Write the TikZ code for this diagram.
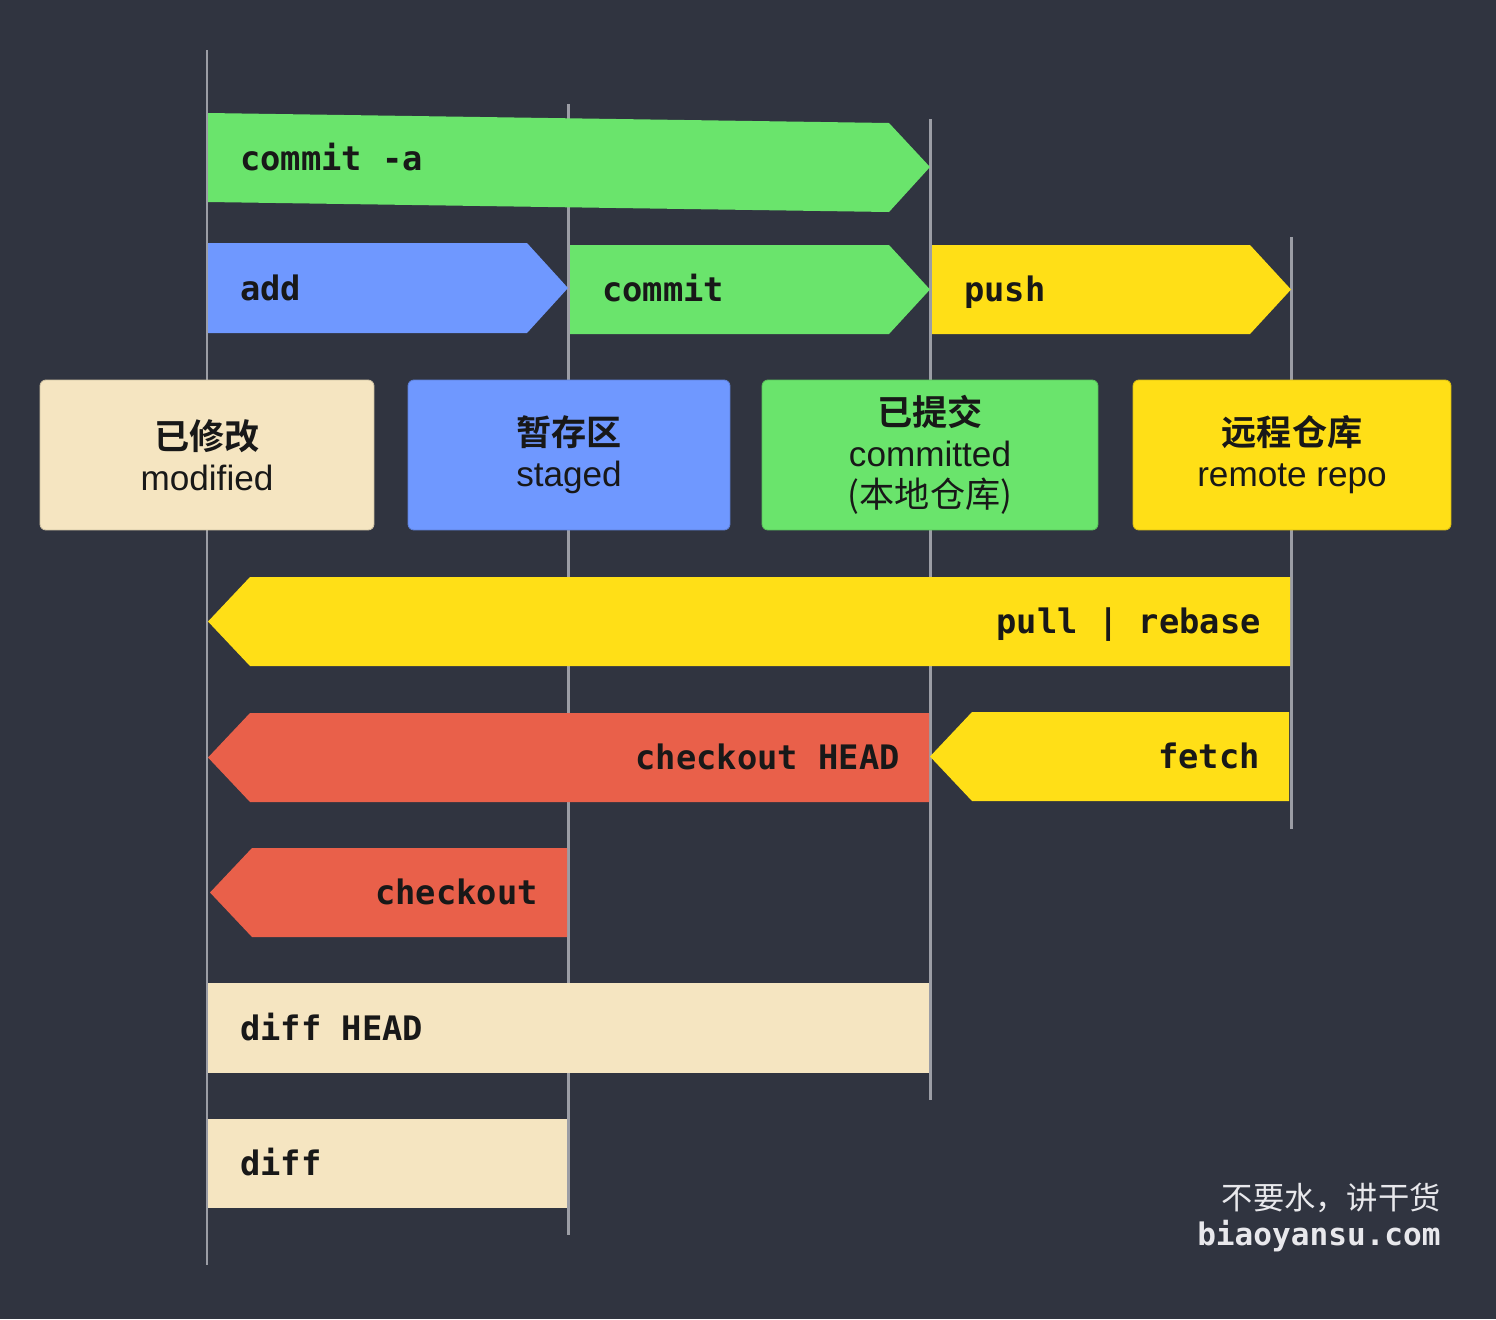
\documentclass[tikz,border=0pt]{standalone}
\usepackage{fontspec}
\setmainfont{Liberation Sans}
\setmonofont{DejaVu Sans Mono}
\newfontfamily\cjk{Noto Sans CJK SC}[BoldFont={Noto Sans CJK SC Bold}]
\usetikzlibrary{positioning}
\definecolor{canvas}{RGB}{48,52,64}
\definecolor{ink}{RGB}{24,24,24}
\definecolor{guideline}{RGB}{155,157,165}
\definecolor{workcream}{RGB}{245,229,193}
\definecolor{stageblue}{RGB}{111,152,255}
\definecolor{localgreen}{RGB}{106,228,108}
\definecolor{remoteyellow}{RGB}{255,223,23}
\definecolor{checkoutred}{RGB}{233,96,74}
\definecolor{wmark}{RGB}{232,232,236}
\tikzset{
    guide/.style={
        draw=guideline,
        line width=1.7pt
    },
    stagebox/.style={
        rectangle,
        rounded corners=3.4pt,
        line width=0.5pt,
        minimum height=3cm,
        inner sep=0pt,
        align=center,
        text=ink,
        font=\fontsize{20}{23.4}\selectfont
    },
    bandlabel/.style={
        font=\ttfamily\bfseries\fontsize{19.2}{22}\selectfont,
        text=ink,
        inner sep=0pt
    },
    wmarklabel/.style={
        text=wmark,
        inner sep=0pt,
        anchor=base east
    }
}
\begin{document}
\begin{tikzpicture}[x=0.02cm, y=-0.02cm]

\useasboundingbox (0,0) rectangle (1496,1319);
\fill[canvas] (0,0) rectangle (1496,1319);

% guide lines, one per area
\foreach \gx/\gtop/\gbot in {207/50/1265, 568/104/1235, 930/119/1100, 1291/237/829}
    \draw[guide] (\gx,\gtop) -- (\gx,\gbot);

% commit -a spans two areas
\fill[localgreen] (208,113) -- (889,123) -- (930,167) -- (889,212) -- (208,202) -- cycle;
\node[bandlabel, anchor=base west] (commitall) at (240,170) {commit -a};

% bands pointing right
\foreach \xa/\xb/\ya/\yb/\col/\name/\txt in {
    208/568/243/333/stageblue/add/add,
    570/930/245/334/localgreen/commit/commit,
    932/1291/245/334/remoteyellow/push/push
} {
    \pgfmathsetmacro{\ym}{(\ya+\yb)/2}
    \fill[\col] (\xa,\ya) -- (\xb-41,\ya) -- (\xb,\ym) -- (\xb-41,\yb) -- (\xa,\yb) -- cycle;
    \node[bandlabel, anchor=base west] (\name) at (\xa+32,\ym+12) {\txt};
}

% the four areas
\node[stagebox, fill=workcream, draw=workcream!85!black, minimum width=6.68cm] (modified) at (207,455)
    {{\cjk\bfseries 已修改}\\modified};
\node[stagebox, fill=stageblue, draw=stageblue!85!black, minimum width=6.44cm] (staged) at (569,455)
    {{\cjk\bfseries 暂存区}\\staged};
\node[stagebox, fill=localgreen, draw=localgreen!85!black, minimum width=6.72cm] (committed) at (930,455)
    {{\cjk\bfseries 已提交}\\committed\\{\cjk (本地仓库)}};
\node[stagebox, fill=remoteyellow, draw=remoteyellow!85!black, minimum width=6.36cm] (remote) at (1292,455)
    {{\cjk\bfseries 远程仓库}\\remote repo};

% bands pointing left
\foreach \xa/\xb/\ya/\yb/\col/\name/\txt in {
    208/1290/577/666/remoteyellow/pull/{pull | rebase},
    208/929/713/802/checkoutred/checkouthead/{checkout HEAD},
    930/1289/712/801/remoteyellow/fetch/fetch,
    210/567/848/937/checkoutred/checkout/checkout
} {
    \pgfmathsetmacro{\ym}{(\ya+\yb)/2}
    \fill[\col] (\xa,\ym) -- (\xa+42,\ya) -- (\xb,\ya) -- (\xb,\yb) -- (\xa+42,\yb) -- cycle;
    \node[bandlabel, anchor=base east] (\name) at (\xb-29,\ym+12) {\txt};
}

% diffs
\fill[workcream] (208,983) rectangle (929,1073);
\node[bandlabel, anchor=base west] (diffhead) at (240,1040) {diff HEAD};
\fill[workcream] (208,1119) rectangle (567,1208);
\node[bandlabel, anchor=base west] (diff) at (240,1175) {diff};

% watermark
\node[wmarklabel, font=\cjk\fontsize{17.8}{20}\selectfont] (slogan) at (1441,1209) {不要水，讲干货};
\node[wmarklabel, font=\ttfamily\bfseries\fontsize{17.7}{20}\selectfont] (site) at (1441,1245) {biaoyansu.com};

\end{tikzpicture}
\end{document}
